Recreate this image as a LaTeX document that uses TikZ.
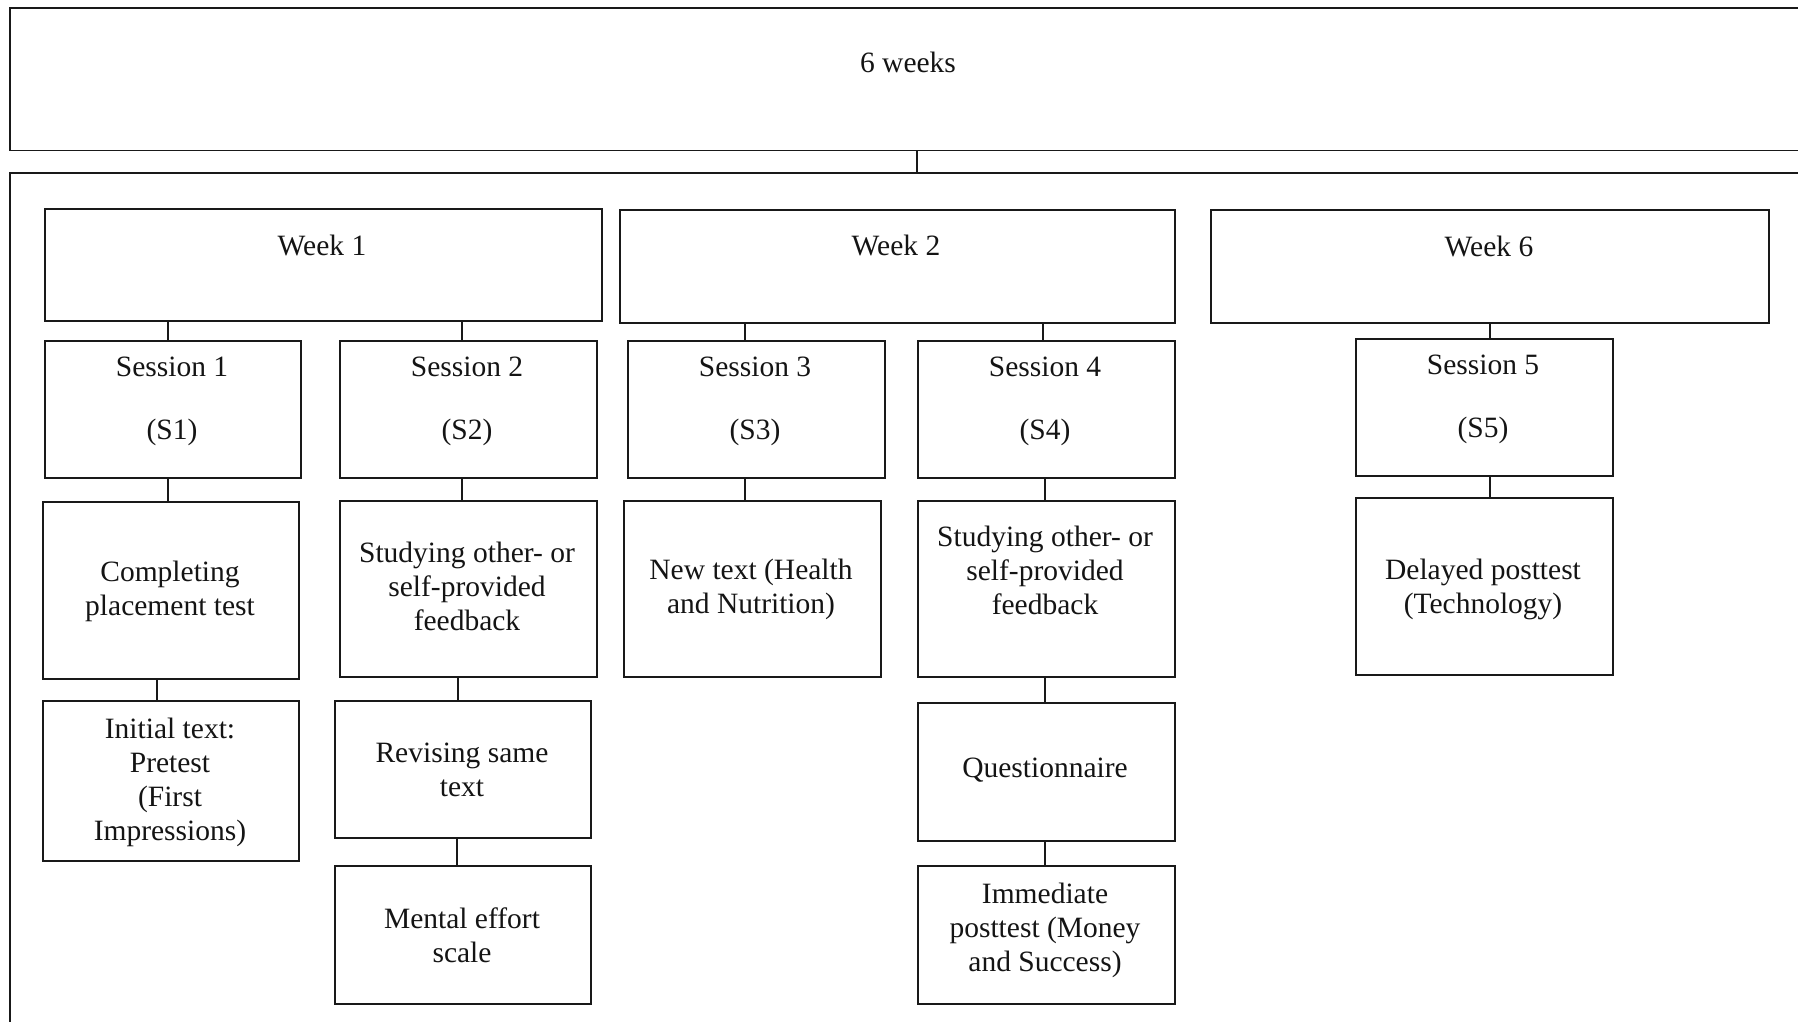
\documentclass[tikz,border=0pt]{standalone}
\usepackage{fontspec}
\setmainfont{Liberation Serif}
\tikzset{
  box/.style={draw=black!90, line width=1.6pt, inner sep=0pt, anchor=north west},
  frame/.style={draw=none, inner sep=0pt, anchor=north west},
  txt/.style={font=\fontsize{29.5}{34}\selectfont, align=center, inner sep=0pt, text=black!92},
  link/.style={draw=black!90, line width=1.6pt},
}
\begin{document}
\begin{tikzpicture}[x=1pt,y=-1pt]
\useasboundingbox (0,0) rectangle (1798,1022);
% frames
\node[frame, minimum width=1790pt, minimum height=142pt] (topframe) at (10,8) {};
\draw[link] (topframe.north east) -- (topframe.north west) -- (topframe.south west) -- (topframe.south east);
\node[txt] (sixw) at (908,62) {6 weeks};
\node[frame, minimum width=1790pt, minimum height=870pt] (outer) at (10,173) {};
\draw[link] (outer.south west) -- (outer.north west) -- (outer.north east);
\draw[link] (topframe.south -| 917,0) -- (outer.north -| 917,0);
% weeks
\node[box, minimum width=557pt, minimum height=112pt] (week1) at (44,208) {};
\node[box, minimum width=555pt, minimum height=113pt] (week2) at (619,209) {};
\node[box, minimum width=558pt, minimum height=113pt] (week6) at (1210,209) {};
\node[txt] (w1t) at (322,245) {Week 1};
\node[txt] (w2t) at (896,245) {Week 2};
\node[txt] (w6t) at (1489,246) {Week 6};
% sessions
\node[box, minimum width=256pt, minimum height=137pt] (s1) at (44,340) {};
\node[box, minimum width=257pt, minimum height=137pt] (s2) at (339,340) {};
\node[box, minimum width=257pt, minimum height=137pt] (s3) at (627,340) {};
\node[box, minimum width=257pt, minimum height=137pt] (s4) at (917,340) {};
\node[box, minimum width=257pt, minimum height=137pt] (s5) at (1355,338) {};
\node[txt] (s1t) at (172,401) {Session 1\\[29pt](S1)};
\node[txt] (s2t) at (467,401) {Session 2\\[29pt](S2)};
\node[txt] (s3t) at (755,401) {Session 3\\[29pt](S3)};
\node[txt] (s4t) at (1045,401) {Session 4\\[29pt](S4)};
\node[txt] (s5t) at (1483,399) {Session 5\\[29pt](S5)};
% activities
\node[box, minimum width=256pt, minimum height=177pt] (comp) at (42,501) {};
\node[box, minimum width=256pt, minimum height=160pt] (init) at (42,700) {};
\node[box, minimum width=257pt, minimum height=176pt] (stud2) at (339,500) {};
\node[box, minimum width=256pt, minimum height=137pt] (rev) at (334,700) {};
\node[box, minimum width=256pt, minimum height=138pt] (ment) at (334,865) {};
\node[box, minimum width=257pt, minimum height=176pt] (newt) at (623,500) {};
\node[box, minimum width=257pt, minimum height=176pt] (stud4) at (917,500) {};
\node[box, minimum width=257pt, minimum height=138pt] (quest) at (917,702) {};
\node[box, minimum width=257pt, minimum height=138pt] (imm) at (917,865) {};
\node[box, minimum width=257pt, minimum height=177pt] (del) at (1355,497) {};
\node[txt] (compt) at (170,591) {Completing\\placement test};
\node[txt] (initt) at (170,782) {Initial text:\\Pretest\\(First\\Impressions)};
\node[txt] (stud2t) at (467,586) {Studying other- or\\self-provided\\feedback};
\node[txt] (revt) at (462,770) {Revising same\\text};
\node[txt] (mentt) at (462,935) {Mental effort\\scale};
\node[txt] (newtt) at (751,589) {New text (Health\\and Nutrition)};
\node[txt] (stud4t) at (1045,570) {Studying other- or\\self-provided\\feedback};
\node[txt] (questt) at (1045,770) {Questionnaire};
\node[txt] (immt) at (1045,930) {Immediate\\posttest (Money\\and Success)};
\node[txt] (delt) at (1483,589) {Delayed posttest\\(Technology)};
% connectors
\draw[link] (week1.south -| 168,0) -- (s1.north -| 168,0);
\draw[link] (week1.south -| 462,0) -- (s2.north -| 462,0);
\draw[link] (week2.south -| 745,0) -- (s3.north -| 745,0);
\draw[link] (week2.south -| 1043,0) -- (s4.north -| 1043,0);
\draw[link] (week6.south -| 1490,0) -- (s5.north -| 1490,0);
\draw[link] (s1.south -| 168,0) -- (comp.north -| 168,0);
\draw[link] (comp.south -| 157,0) -- (init.north -| 157,0);
\draw[link] (s2.south -| 462,0) -- (stud2.north -| 462,0);
\draw[link] (stud2.south -| 458,0) -- (rev.north -| 458,0);
\draw[link] (rev.south -| 457,0) -- (ment.north -| 457,0);
\draw[link] (s3.south -| 745,0) -- (newt.north -| 745,0);
\draw[link] (s4.south -| 1045,0) -- (stud4.north -| 1045,0);
\draw[link] (stud4.south -| 1045,0) -- (quest.north -| 1045,0);
\draw[link] (quest.south -| 1045,0) -- (imm.north -| 1045,0);
\draw[link] (s5.south -| 1490,0) -- (del.north -| 1490,0);
\end{tikzpicture}
\end{document}
